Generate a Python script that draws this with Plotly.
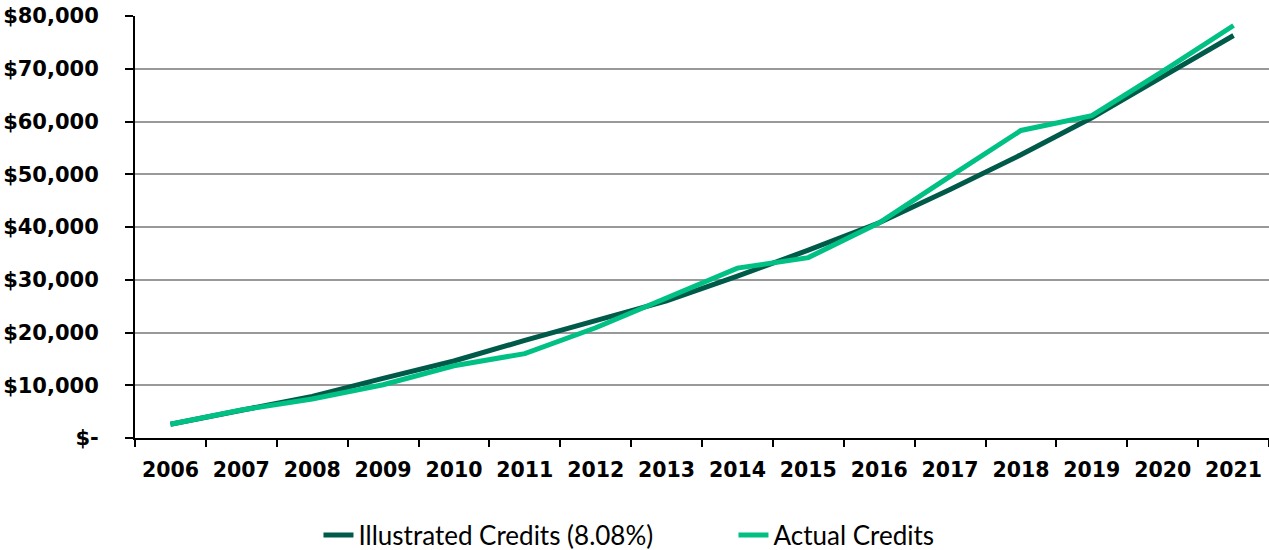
import plotly.graph_objects as go

years = [str(y) for y in range(2006, 2022)]
illustrated = [2600, 5200, 7900, 11300, 14600, 18500, 22200, 26000, 30700, 35600, 40800, 47100, 53700, 60700, 68500, 76300]
actual = [2600, 5300, 7400, 10100, 13700, 16000, 20900, 26500, 32200, 34200, 40800, 49600, 58300, 61100, 69500, 78200]
ytick_vals = [0, 10000, 20000, 30000, 40000, 50000, 60000, 70000, 80000]
ytick_text = ["$-", "$10,000", "$20,000", "$30,000", "$40,000", "$50,000", "$60,000", "$70,000", "$80,000"]

fig = go.Figure()
fig.add_trace(go.Scatter(x=years, y=illustrated, mode="lines", name="Illustrated Credits (8.08%)",
                         line=dict(color="#005A4A", width=5)))
fig.add_trace(go.Scatter(x=years, y=actual, mode="lines", name="Actual Credits",
                         line=dict(color="#00C084", width=5)))

fig.update_layout(
    width=1269, height=550,
    margin=dict(l=135, r=0, t=16, b=112),
    plot_bgcolor="white", paper_bgcolor="white",
    font=dict(family="DejaVu Sans", color="black"),
    legend=dict(orientation="h", xref="container", yref="container",
                x=0.578, xanchor="center", y=0.027, yanchor="middle",
                font=dict(size=26, family="Lato"), entrywidth=370, tracegroupgap=0),
    showlegend=True,
)
fig.update_xaxes(type="category", range=[-0.5, 15.5], showgrid=False, automargin=False,
                 showline=True, linecolor="black", linewidth=2,
                 ticks="outside", tickson="boundaries", ticklen=7, tickwidth=2, tickcolor="black",
                 ticklabelstandoff=12,
                 tickfont=dict(size=20.5, family="DejaVu Sans", color="black", weight="bold"))
fig.update_yaxes(range=[0, 80000], tickvals=ytick_vals, ticktext=ytick_text, automargin=False,
                 showgrid=True, gridcolor="#999999", gridwidth=1.5,
                 showline=True, linecolor="black", linewidth=2, zeroline=False,
                 ticks="outside", ticklen=8, tickwidth=2, tickcolor="black",
                 ticklabelstandoff=22, ticklabeloverflow="allow",
                 tickfont=dict(size=21, family="DejaVu Sans", color="black", weight="bold"))

fig.write_html("out.html", config={"displayModeBar": False},
               post_script="document.body.style.margin='0px';")
